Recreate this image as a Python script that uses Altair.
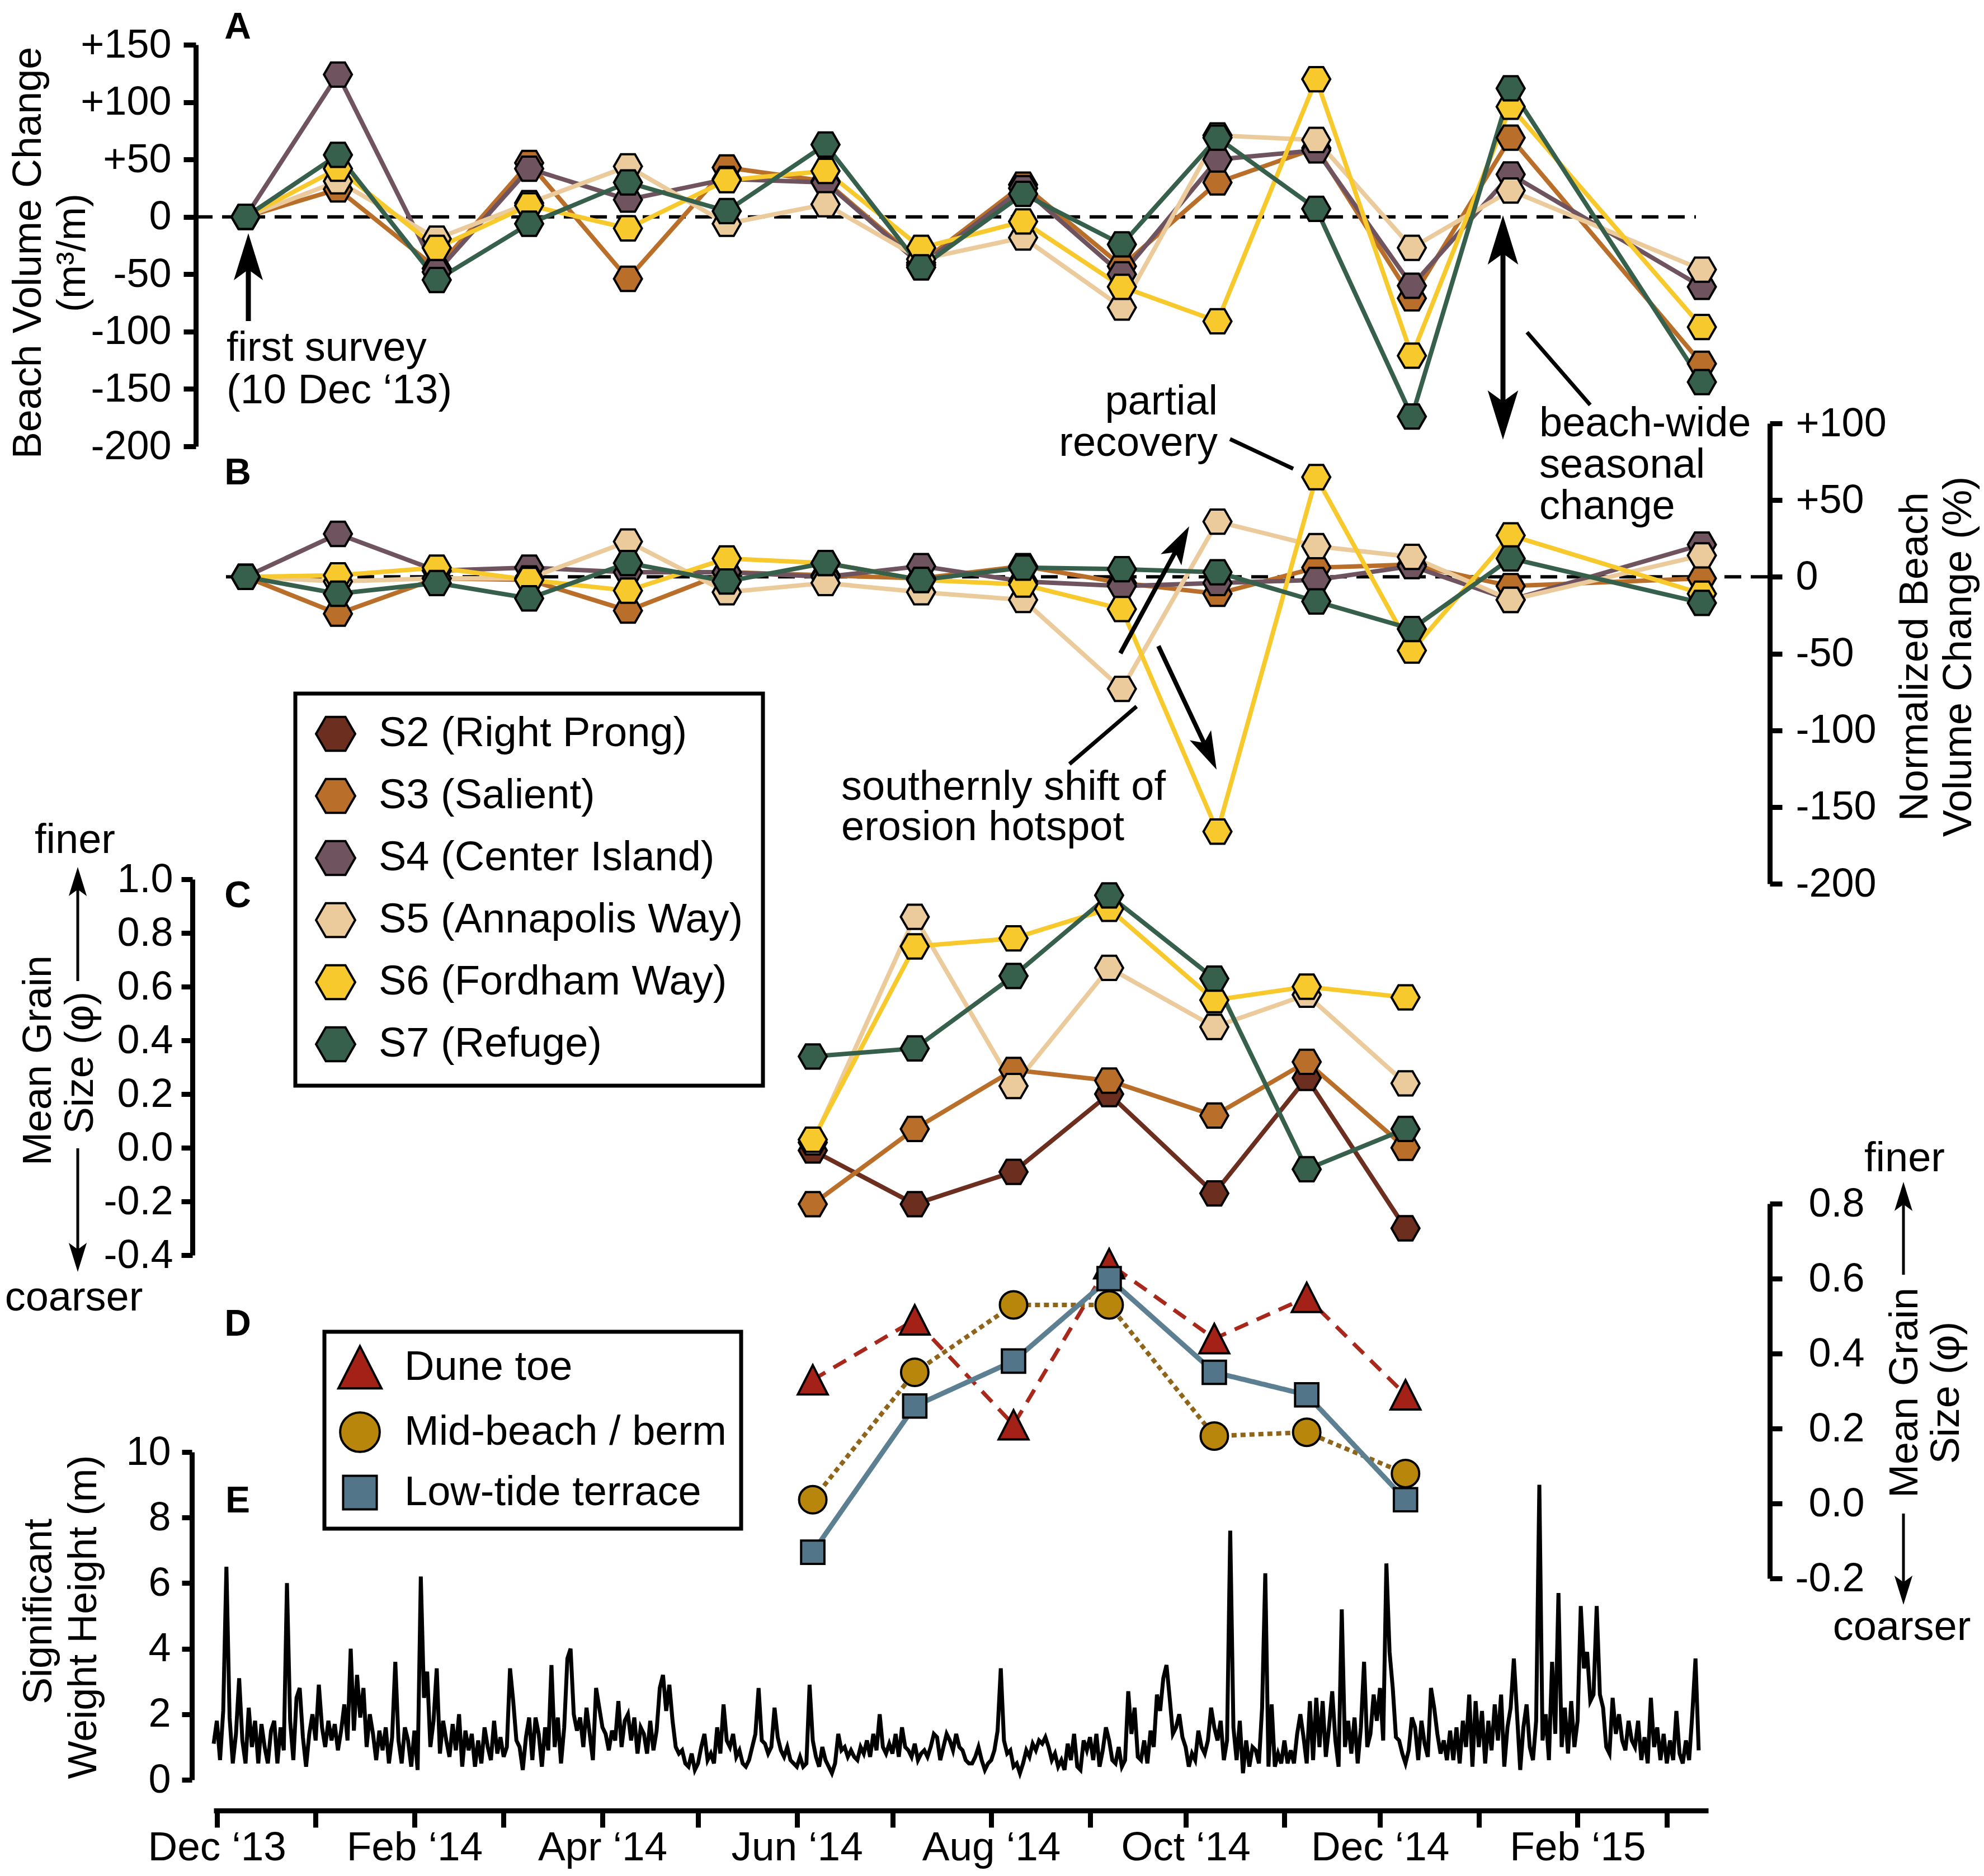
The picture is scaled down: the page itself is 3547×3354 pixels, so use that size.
import math
import altair as alt
import pandas as pd

FONT = "Liberation Sans"

# ---------------- data ----------------
SITES = ["S2 (Right Prong)", "S3 (Salient)", "S4 (Center Island)",
         "S5 (Annapolis Way)", "S6 (Fordham Way)", "S7 (Refuge)"]
SITE_COLORS = ["#6B2E1F", "#B96F29", "#6F5460", "#EBCB9C", "#F7C92C", "#36604B"]

VOL_DATES = ["2013-12-10", "2014-01-08", "2014-02-08", "2014-03-09", "2014-04-09",
             "2014-05-10", "2014-06-10", "2014-07-10", "2014-08-11", "2014-09-11",
             "2014-10-11", "2014-11-11", "2014-12-11", "2015-01-11", "2015-03-12"]
VOL_S3 = [0, 24, -45, 47, -54, 43, 31, -40, 28, -43, 30, 60, -71, 69, -128]
VOL_S4 = [0, 124, -48, 42, 15, 33, 30, -42, 25, -50, 50, 58, -60, 37, -61]
VOL_S5 = [0, 31, -19, 12, 44, -6, 11, -37, -18, -79, 71, 67, -27, 23, -46]
VOL_S6 = [0, 42, -27, 10, -10, 32, 40, -27, -4, -61, -91, 120, -121, 96, -96]
VOL_S7 = [0, 54, -55, -6, 30, 5, 63, -44, 20, -24, 69, 7, -174, 112, -144]

NORM_S3 = [0, -24, -1, -2, -22, 3, 1, -1, 7, -4, -11, 6, 8, -6, -1]
NORM_S4 = [0, 28, 4, 6, 3, 3, 0, 7, -3, -6, -4, -2, 7, -15, 21]
NORM_S5 = [0, -3, -1, -1, 23, -10, -4, -10, -15, -73, 36, 20, 13, -15, 14]
NORM_S6 = [0, 1, 6, -2, -9, 12, 9, -2, -5, -21, -166, 65, -48, 27, -11]
NORM_S7 = [0, -11, -4, -14, 9, -3, 9, -2, 6, 5, 3, -16, -34, 12, -17]

GRAIN_DATES = ["2014-06-06", "2014-07-08", "2014-08-08", "2014-09-07",
               "2014-10-10", "2014-11-08", "2014-12-09"]
GRAIN_S2 = [-0.01, -0.21, -0.09, 0.20, -0.17, 0.26, -0.30]
GRAIN_S3 = [-0.21, 0.07, 0.29, 0.25, 0.12, 0.32, 0.00]
GRAIN_S5 = [0.02, 0.86, 0.23, 0.67, 0.45, 0.57, 0.24]
GRAIN_S6 = [0.03, 0.75, 0.78, 0.89, 0.55, 0.60, 0.56]
GRAIN_S7 = [0.34, 0.37, 0.64, 0.94, 0.63, -0.08, 0.07]

ZONES = ["Dune toe", "Mid-beach / berm", "Low-tide terrace"]
ZONE_COLORS = ["#A32116", "#B8860B", "#52758A"]
ZONE_LINE_COLORS = ["#A8281C", "#8E651A", "#5C7F92"]
ZONE_DUNE = [0.33, 0.49, 0.21, 0.64, 0.44, 0.55, 0.29]
ZONE_MID = [0.01, 0.35, 0.53, 0.53, 0.18, 0.19, 0.08]
ZONE_LOW = [-0.13, 0.26, 0.38, 0.60, 0.35, 0.29, 0.01]

WAVE_START = "2013-11-30"
WAVE_HS = (
    [1.1]
    + [1.8, 0.6, 2.1, 6.5, 1.9, 0.5, 1.4, 3.1, 1.2, 0.5, 2.2, 1.0, 1.8, 0.5, 1.7, 1.0,
       0.5, 1.5, 1.8, 0.5, 1.6, 0.9, 6.0, 1.8, 0.6, 2.5, 2.8, 1.3, 0.4, 1.4, 2.0]
    + [1.2, 2.9, 1.6, 1.0, 1.8, 1.2, 1.7, 0.9, 1.5, 2.3, 1.2, 4.0, 1.5, 3.2, 1.9, 2.8,
       1.0, 2.0, 1.4, 0.6, 1.5, 0.9, 1.6, 0.5, 1.3, 3.6, 1.2, 0.5, 1.6, 1.2, 0.4]
    + [1.5, 0.3, 6.2, 2.5, 3.3, 1.0, 1.8, 3.4, 0.8, 1.8, 1.2, 0.7, 1.7, 0.9, 2.0, 0.4,
       1.5, 0.9, 1.4, 0.4, 1.2, 0.5, 1.6, 1.0, 0.6, 1.8, 0.8, 1.3]
    + [0.7, 1.0, 3.4, 2.4, 1.2, 1.0, 0.3, 1.3, 1.9, 0.6, 1.9, 1.4, 0.4, 1.6, 0.9, 3.5,
       1.0, 1.9, 0.5, 1.6, 3.7, 4.0, 2.0, 1.5, 1.9, 1.0, 2.2, 1.4, 0.6, 2.8, 2.2]
    + [1.6, 1.4, 0.9, 1.5, 1.2, 2.4, 1.0, 1.8, 2.0, 1.2, 1.9, 0.8, 1.6, 1.4, 0.8, 1.8,
       0.9, 1.5, 2.8, 3.2, 2.1, 2.9, 1.8, 1.0, 0.8, 0.9, 0.5, 0.4, 0.8, 0.3]
    + [0.5, 1.0, 1.4, 0.6, 0.8, 0.5, 1.6, 0.8, 2.3, 1.2, 1.0, 1.4, 0.7, 0.9, 0.5, 0.4,
       0.6, 1.0, 1.4, 2.8, 1.2, 1.1, 0.8, 1.0, 2.2, 1.3, 0.9, 0.7, 1.0, 0.6, 0.5]
    + [0.4, 0.7, 0.4, 0.5, 2.9, 1.2, 0.7, 0.4, 1.0, 0.6, 0.4, 0.2, 0.5, 1.4, 0.9, 1.0,
       0.7, 0.9, 0.7, 0.6, 1.0, 0.8, 1.2, 0.7, 1.4, 0.9, 2.0, 1.0, 0.8, 1.1]
    + [0.8, 1.4, 0.7, 1.6, 1.0, 0.9, 0.7, 1.1, 0.6, 0.8, 0.9, 0.7, 1.0, 1.4, 1.3, 0.6,
       1.0, 1.4, 1.2, 0.9, 1.4, 1.0, 0.9, 0.6, 0.5, 0.5, 0.7, 1.0, 0.6, 0.3, 0.5]
    + [0.6, 0.9, 1.5, 3.4, 1.2, 0.8, 0.9, 0.4, 0.5, 0.2, 0.5, 0.9, 0.7, 1.1, 0.9, 1.2,
       1.1, 1.3, 1.0, 0.6, 0.8, 0.4, 0.6, 0.3, 1.1, 0.6, 1.4, 0.4, 0.3, 1.2, 0.9]
    + [1.3, 0.6, 1.4, 0.4, 0.9, 1.6, 1.2, 0.6, 0.5, 1.0, 0.4, 0.6, 2.7, 1.4, 2.2, 0.7,
       0.6, 1.2, 0.5, 1.5, 1.0, 2.6, 2.1, 3.1, 3.5, 2.5, 1.4, 1.6, 2.0, 1.3]
    + [1.0, 0.4, 0.8, 0.6, 1.5, 1.0, 0.8, 1.2, 2.2, 1.6, 1.2, 1.8, 0.6, 1.2, 7.6, 1.6,
       0.6, 1.8, 0.2, 1.2, 0.4, 1.0, 0.9, 0.5, 2.2, 6.3, 0.4, 2.3, 0.4, 0.8, 0.5]
    + [1.2, 0.5, 0.9, 0.5, 1.4, 2.0, 1.3, 0.5, 2.4, 0.6, 2.5, 1.0, 2.4, 0.7, 1.6, 2.7,
       1.2, 0.4, 5.2, 1.0, 1.8, 0.8, 1.9, 0.5, 1.6, 3.6, 1.0, 1.4, 2.6, 1.8]
    + [2.8, 1.2, 6.6, 3.9, 2.8, 1.3, 1.2, 0.8, 0.5, 0.9, 1.9, 1.6, 0.6, 1.8, 1.1, 0.7,
       2.8, 2.2, 1.4, 0.8, 1.2, 0.6, 1.5, 0.6, 1.6, 0.5, 1.8, 1.0, 2.6, 0.4, 2.4]
    + [1.0, 2.1, 0.5, 1.8, 0.9, 2.3, 1.2, 2.6, 0.4, 1.6, 2.2, 3.7, 2.0, 0.3, 1.6, 2.3,
       1.0, 0.6, 1.8, 9.0, 1.2, 2.0, 0.6, 3.6, 1.4, 5.7, 1.0, 2.2, 0.8, 2.4, 1.0]
    + [1.8, 5.3, 3.4, 3.9, 2.4, 2.6, 5.3, 2.6, 2.2, 1.0, 0.8, 2.5, 1.4, 2.0, 1.2, 0.9,
       1.8, 1.2, 1.0, 1.8, 0.6, 1.3, 0.5, 2.5, 1.0, 1.6, 0.6, 1.4]
    + [0.5, 1.2, 0.6, 2.1, 0.8, 0.5, 1.2, 0.6, 2.0, 3.7, 0.9]
)

TICK_DATES = ["2013-12-01", "2014-01-01", "2014-02-01", "2014-03-01", "2014-04-01",
              "2014-05-01", "2014-06-01", "2014-07-01", "2014-08-01", "2014-09-01",
              "2014-10-01", "2014-11-01", "2014-12-01", "2015-01-01", "2015-02-01",
              "2015-03-01"]
TICK_LABELS = ["Dec \u201813", "", "Feb \u201814", "", "Apr \u201814", "", "Jun \u201814", "",
               "Aug \u201814", "", "Oct \u201814", "", "Dec \u201814", "", "Feb \u201815", ""]

# ---------------- frames ----------------
BASE = pd.Timestamp("2013-12-01")


def days(dates):
    return [(pd.Timestamp(d) - BASE).days for d in dates]


def long_frame(dates, names, series, key):
    rows = []
    dd = days(dates)
    for n, vals in zip(names, series):
        for d, v in zip(dd, vals):
            rows.append({"day": d, key: n, "value": v})
    return pd.DataFrame(rows)


vol = long_frame(VOL_DATES, SITES[1:], [VOL_S3, VOL_S4, VOL_S5, VOL_S6, VOL_S7], "site")
norm = long_frame(VOL_DATES, SITES[1:], [NORM_S3, NORM_S4, NORM_S5, NORM_S6, NORM_S7], "site")
grain = long_frame(GRAIN_DATES, [SITES[0], SITES[1], SITES[3], SITES[4], SITES[5]],
                   [GRAIN_S2, GRAIN_S3, GRAIN_S5, GRAIN_S6, GRAIN_S7], "site")
zone = long_frame(GRAIN_DATES, ZONES, [ZONE_DUNE, ZONE_MID, ZONE_LOW], "zone")
w0 = (pd.Timestamp(WAVE_START) - BASE).days
wave = pd.DataFrame({"day": [w0 + i for i in range(len(WAVE_HS))], "value": WAVE_HS})
ONE = pd.DataFrame({"k": [0]})

# ---------------- geometry (page pixels) ----------------
OX, OY = 382, 8          # plot origin on the page
W, H = 2672, 3229
AXW = 9                  # axis line width


def P(x):
    return x - OX


def Q(y):
    return y - OY


HEX = "M-1,0L-0.5,-0.866L0.5,-0.866L1,0L0.5,0.866L-0.5,0.866Z"
TRI = "M0,-1.07L1.09,1.07L-1.09,1.07Z"
SQR = "M-0.85,-0.85L0.85,-0.85L0.85,0.85L-0.85,0.85Z"
ARROW = "M0,-1L0.62,1L0,0.55L-0.62,1Z"

# ---------------- scales / axes ----------------
tick_days = days(TICK_DATES)
x_expr = ("[" + ",".join("'" + t + "'" for t in TICK_LABELS) + "][indexof(["
          + ",".join(str(d) for d in tick_days) + "], datum.value)]")
X_AXIS = alt.Axis(values=tick_days, labelExpr=x_expr, tickSize=30, tickWidth=AXW,
                  domainWidth=AXW, labelFontSize=73, labelPadding=0, labelFlush=False,
                  labelOverlap=False, labelLimit=2000, grid=False, title=None,
                  labelBaseline="top", labelAlign="center")
X = alt.X("day:Q", scale=alt.Scale(domain=[-1, 468], nice=False, zero=False),
          axis=X_AXIS, title=None)

SIGN_EXPR = "datum.value > 0 ? '+' + datum.value : (datum.value < 0 ? '-' + abs(datum.value) : '0')"
DEC_EXPR = "(datum.value < 0 ? '-' : '') + format(abs(datum.value), '.1f')"


def y_axis(orient, offset, values, expr, tick, pad, align=None):
    kw = dict(orient=orient, offset=offset, values=values, labelExpr=expr, tickSize=tick,
              labelPadding=pad, title=None, grid=False, labelOverlap=False,
              labelFontSize=72, labelLimit=2000, domainWidth=AXW, tickWidth=AXW)
    if align:
        kw["labelAlign"] = align
    return alt.Axis(**kw)


A_DOM, A_RNG = [-200, 150], [Q(798), Q(80)]
B_DOM, B_RNG = [-200, 100], [Q(1580), Q(757)]
C_DOM, C_RNG = [-0.4, 1.0], [Q(2244), Q(1572)]
D_DOM, D_RNG = [-0.2, 0.8], [Q(2822), Q(2152)]
E_DOM, E_RNG = [0, 10], [Q(3182), Q(2596)]

A_AX = y_axis("left", OX - 350, [-200, -150, -100, -50, 0, 50, 100, 150], SIGN_EXPR, 22, 22)
B_AX = y_axis("right", 3164 - (OX + W), [-200, -150, -100, -50, 0, 50, 100], SIGN_EXPR, 22, 24, "left")
C_AX = y_axis("left", OX - 344, [-0.4, -0.2, 0.0, 0.2, 0.4, 0.6, 0.8, 1.0], DEC_EXPR, 20, 15)
D_AX = y_axis("right", 3164 - (OX + W), [-0.2, 0.0, 0.2, 0.4, 0.6, 0.8], DEC_EXPR, 22, 147, "right")
E_AX = y_axis("left", OX - 343, [0, 2, 4, 6, 8, 10], "datum.value + ''", 18, 20)


def Y(dom, rng, axis=None):
    return alt.Y("value:Q", scale=alt.Scale(domain=dom, range=rng, nice=False, zero=False),
                 axis=axis, title=None)


SITE_SCALE = alt.Scale(domain=SITES, range=SITE_COLORS)
SITE_LEGEND = alt.Legend(title=None, orient="none", legendX=528 - OX, legendY=1240 - OY,
                         symbolType=HEX, symbolSize=4900, symbolStrokeColor="black",
                         symbolStrokeWidth=4, labelFontSize=74, labelColor="black",
                         padding=35, rowPadding=33, labelOffset=40, labelLimit=2000,
                         strokeColor="black")
ZONE_LEGEND = alt.Legend(title=None, orient="none", legendX=580 - OX, legendY=2381 - OY,
                         symbolSize=5000, symbolStrokeColor="black", symbolStrokeWidth=4,
                         labelFontSize=74, labelColor="black", padding=26, rowPadding=26,
                         labelOffset=42, labelLimit=2000, strokeColor="black")


def site_lines(df, dom, rng, axis):
    return alt.Chart(df).mark_line(strokeWidth=8).encode(
        x=X, y=Y(dom, rng, axis),
        stroke=alt.Stroke("site:N", scale=SITE_SCALE, legend=None))


def site_points(df, dom, rng):
    return alt.Chart(df).mark_point(shape=HEX, filled=True, size=2500, stroke="black",
                                    strokeWidth=4, opacity=1).encode(
        x=X, y=Y(dom, rng),
        fill=alt.Fill("site:N", scale=SITE_SCALE, legend=SITE_LEGEND))


def zero_line(dom, rng, x1, x2):
    return alt.Chart(pd.DataFrame({"value": [0]})).mark_rule(
        strokeDash=[30, 17], strokeWidth=6, color="black").encode(
        x=alt.value(P(x1)), x2=alt.value(P(x2)), y=Y(dom, rng))


# ---------------- annotation helpers ----------------
def txt(s, x, y, size=74, align="left", angle=0, weight="normal"):
    return alt.Chart(ONE).mark_text(text=s, font=FONT, fontSize=size, align=align,
                                    baseline="alphabetic", angle=angle, fontWeight=weight,
                                    color="black").encode(x=alt.value(P(x)), y=alt.value(Q(y)))


def seg(x1, y1, x2, y2, w=7):
    return alt.Chart(ONE).mark_rule(strokeWidth=w, color="black").encode(
        x=alt.value(P(x1)), y=alt.value(Q(y1)), x2=alt.value(P(x2)), y2=alt.value(Q(y2)))


def head(xt, yt, ux, uy, length):
    cx, cy = xt - ux * length / 2, yt - uy * length / 2
    ang = math.degrees(math.atan2(ux, -uy)) % 360
    return cx, cy, alt.Chart(ONE).mark_point(shape=ARROW, size=length ** 2, filled=True,
                                              color="black", opacity=1, angle=ang).encode(
        x=alt.value(P(cx)), y=alt.value(Q(cy)))


def arrow(x1, y1, x2, y2, length=80, w=8, double=False):
    dx, dy = x2 - x1, y2 - y1
    L = math.hypot(dx, dy)
    ux, uy = dx / L, dy / L
    cx, cy, h2 = head(x2, y2, ux, uy, length)
    out = [h2]
    sx, sy = x1, y1
    if double:
        sx, sy, h1 = head(x1, y1, -ux, -uy, length)
        out.append(h1)
    return [seg(sx, sy, cx, cy, w)] + out


layers = [
    zero_line(A_DOM, A_RNG, 350, 3032),
    zero_line(B_DOM, B_RNG, 404, 3160),
    site_lines(vol, A_DOM, A_RNG, A_AX),
    site_points(vol, A_DOM, A_RNG),
    site_lines(norm, B_DOM, B_RNG, B_AX),
    site_points(norm, B_DOM, B_RNG),
    site_lines(grain, C_DOM, C_RNG, C_AX),
    site_points(grain, C_DOM, C_RNG),
    alt.Chart(zone).mark_line().encode(
        x=X, y=Y(D_DOM, D_RNG, D_AX),
        stroke=alt.Stroke("zone:N", scale=alt.Scale(domain=ZONES, range=ZONE_LINE_COLORS), legend=None),
        strokeDash=alt.StrokeDash("zone:N", scale=alt.Scale(domain=ZONES, range=[[26, 17], [9, 7], [1, 0]]), legend=None),
        strokeWidth=alt.StrokeWidth("zone:N", scale=alt.Scale(domain=ZONES, range=[7, 9, 7]), legend=None)),
    alt.Chart(zone).mark_point(filled=True, size=2400, stroke="black", strokeWidth=4,
                               opacity=1).encode(
        x=X, y=Y(D_DOM, D_RNG),
        color=alt.Color("zone:N", scale=alt.Scale(domain=ZONES, range=ZONE_COLORS), legend=ZONE_LEGEND),
        shape=alt.Shape("zone:N", scale=alt.Scale(domain=ZONES, range=[TRI, "circle", SQR]), legend=ZONE_LEGEND)),
    alt.Chart(wave).mark_line(strokeWidth=7, color="black").encode(
        x=X, y=Y(E_DOM, E_RNG, E_AX)),
]

# panel letters
for letter, yb in [("A", 69), ("B", 866), ("C", 1622), ("D", 2388), ("E", 2704)]:
    layers.append(txt(letter, 425, yb, size=66, align="center", weight="bold"))

# axis titles (rotated)
layers += [
    txt("Beach Volume Change", 73, 452, size=72, align="center", angle=270),
    txt("(m\u00b3/m)", 152, 452, size=72, align="center", angle=270),
    txt("Normalized Beach", 3446, 1174, size=72, align="center", angle=270),
    txt("Volume Change (%)", 3524, 1174, size=72, align="center", angle=270),
    txt("Mean Grain", 91, 1896, size=72, align="center", angle=270),
    txt("Size (\u03c6)", 166, 1900, size=72, align="center", angle=270),
    txt("Mean Grain", 3428, 2490, size=72, align="center", angle=270),
    txt("Size (\u03c6)", 3502, 2490, size=72, align="center", angle=270),
    txt("Significant", 92, 2881, size=72, align="center", angle=270),
    txt("Weight Height (m)", 172, 2891, size=72, align="center", angle=270),
    txt("finer", 134, 1525, align="center"),
    txt("coarser", 132, 2343, align="center"),
    txt("finer", 3405, 2094, align="center"),
    txt("coarser", 3400, 2932, align="center"),
]
layers += arrow(139, 1754, 139, 1550, length=52, w=5)
layers += arrow(139, 2053, 139, 2274, length=52, w=5)
layers += arrow(3403, 2279, 3403, 2113, length=52, w=5)
layers += arrow(3403, 2706, 3403, 2869, length=52, w=5)

# annotations
layers += [
    txt("first survey", 405, 645),
    txt("(10 Dec \u201813)", 405, 721),
    txt("partial", 2177, 741, align="right"),
    txt("recovery", 2177, 815, align="right"),
    txt("beach-wide", 2752, 780),
    txt("seasonal", 2752, 854),
    txt("change", 2752, 928),
    txt("southernly shift of", 1504, 1430),
    txt("erosion hotspot", 1504, 1502),
    seg(2199, 785, 2312, 838, 7),
    seg(2730, 594, 2843, 724, 7),
    seg(2032, 1263, 1912, 1366, 7),
]
layers += arrow(444, 574, 444, 417, length=84, w=9)
layers += arrow(2687, 385, 2687, 786, length=88, w=9, double=True)
layers += arrow(2003, 1168, 2126, 941, length=68, w=8)
layers += arrow(2071, 1155, 2175, 1376, length=68, w=8)

chart = alt.layer(*layers).resolve_scale(
    y="independent", stroke="independent", strokeDash="independent", strokeWidth="independent"
).properties(
    width=W, height=H,
    padding={"left": OX - 8, "top": OY - 8, "right": 3531 - (OX - 8) - W, "bottom": 107},
    autosize=alt.AutoSizeParams(type="none"),
    background="white",
).configure_view(stroke=None).configure_axis(
    labelFont=FONT, labelColor="black", domainColor="black", tickColor="black",
    domainWidth=AXW, tickWidth=AXW, labelFontSize=72, grid=False
).configure_legend(
    labelFont=FONT, strokeWidth=7
)

chart.save("out.html", embed_options={"renderer": "svg", "actions": False})
